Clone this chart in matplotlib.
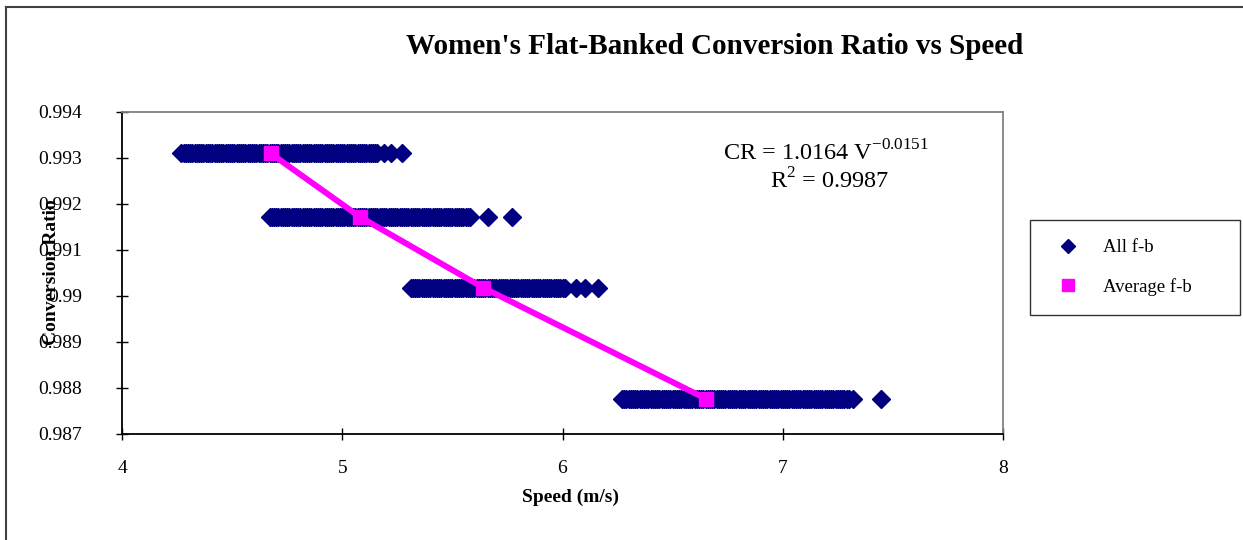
import numpy as np
import matplotlib
matplotlib.use("Agg")
import matplotlib.pyplot as plt
from matplotlib.lines import Line2D

plt.rcParams['font.family'] = ['Liberation Serif', 'DejaVu Serif']
plt.rcParams['mathtext.fontset'] = 'custom'
plt.rcParams['mathtext.rm'] = 'Liberation Serif'

# conversion ratio levels (one row of points per level)
cr_levels = [0.99310, 0.99172, 0.99018, 0.98777]

# speeds of all flat-banked trials, per level
speed_1 = [4.27, 4.28, 4.29, 4.30, 4.31, 4.32, 4.33, 4.34, 4.35, 4.36, 4.37, 4.38,
           4.39, 4.40, 4.41, 4.42, 4.43, 4.44, 4.45, 4.46, 4.47, 4.48, 4.49, 4.50,
           4.51, 4.52, 4.53, 4.54, 4.55, 4.56, 4.57, 4.58, 4.59, 4.60, 4.61, 4.62,
           4.63, 4.64, 4.65, 4.66, 4.67, 4.68, 4.69, 4.70, 4.71, 4.72, 4.73, 4.74,
           4.75, 4.76, 4.77, 4.78, 4.79, 4.80, 4.81, 4.82, 4.83, 4.84, 4.85, 4.86,
           4.87, 4.88, 4.89, 4.90, 4.91, 4.92, 4.93, 4.94, 4.95, 4.96, 4.97, 4.98,
           4.99, 5.00, 5.01, 5.02, 5.03, 5.04, 5.05, 5.06, 5.07, 5.08, 5.09, 5.10,
           5.11, 5.12, 5.13, 5.14, 5.15, 5.16, 5.19, 5.22, 5.27]
speed_2 = [4.67, 4.68, 4.69, 4.70, 4.71, 4.72, 4.73, 4.74, 4.75, 4.76, 4.77, 4.78,
           4.79, 4.80, 4.81, 4.82, 4.83, 4.84, 4.85, 4.86, 4.87, 4.88, 4.89, 4.90,
           4.91, 4.92, 4.93, 4.94, 4.95, 4.96, 4.97, 4.98, 4.99, 5.00, 5.01, 5.02,
           5.03, 5.04, 5.05, 5.06, 5.07, 5.08, 5.09, 5.10, 5.11, 5.12, 5.13, 5.14,
           5.15, 5.16, 5.17, 5.18, 5.19, 5.20, 5.21, 5.22, 5.23, 5.24, 5.25, 5.26,
           5.27, 5.28, 5.29, 5.30, 5.31, 5.32, 5.33, 5.34, 5.35, 5.36, 5.37, 5.38,
           5.39, 5.40, 5.41, 5.42, 5.43, 5.44, 5.45, 5.46, 5.47, 5.48, 5.49, 5.50,
           5.51, 5.52, 5.53, 5.54, 5.55, 5.56, 5.57, 5.58, 5.66, 5.77]
speed_3 = [5.31, 5.32, 5.33, 5.34, 5.35, 5.36, 5.37, 5.38, 5.39, 5.40, 5.41, 5.42,
           5.43, 5.44, 5.45, 5.46, 5.47, 5.48, 5.49, 5.50, 5.51, 5.52, 5.53, 5.54,
           5.55, 5.56, 5.57, 5.58, 5.59, 5.60, 5.61, 5.62, 5.63, 5.64, 5.65, 5.66,
           5.67, 5.68, 5.69, 5.70, 5.71, 5.72, 5.73, 5.74, 5.75, 5.76, 5.77, 5.78,
           5.79, 5.80, 5.81, 5.82, 5.83, 5.84, 5.85, 5.86, 5.87, 5.88, 5.89, 5.90,
           5.91, 5.92, 5.93, 5.94, 5.95, 5.96, 5.97, 5.98, 5.99, 6.00, 6.01,
           6.06, 6.10, 6.16]
speed_4 = [6.27, 6.28, 6.29, 6.30, 6.31, 6.32, 6.33, 6.34, 6.35, 6.36, 6.37, 6.38,
           6.39, 6.40, 6.41, 6.42, 6.43, 6.44, 6.45, 6.46, 6.47, 6.48, 6.49, 6.50,
           6.51, 6.52, 6.53, 6.54, 6.55, 6.56, 6.57, 6.58, 6.59, 6.60, 6.61, 6.62,
           6.63, 6.64, 6.65, 6.66, 6.67, 6.68, 6.69, 6.70, 6.71, 6.72, 6.73, 6.74,
           6.75, 6.76, 6.77, 6.78, 6.79, 6.80, 6.81, 6.82, 6.83, 6.84, 6.85, 6.86,
           6.87, 6.88, 6.89, 6.90, 6.91, 6.92, 6.93, 6.94, 6.95, 6.96, 6.97, 6.98,
           6.99, 7.00, 7.01, 7.02, 7.03, 7.04, 7.05, 7.06, 7.07, 7.08, 7.09, 7.10,
           7.11, 7.12, 7.13, 7.14, 7.15, 7.16, 7.17, 7.18, 7.19, 7.20, 7.21, 7.22,
           7.23, 7.24, 7.25, 7.26, 7.27, 7.28, 7.29, 7.30, 7.32, 7.445]
all_speeds = [speed_1, speed_2, speed_3, speed_4]

# average speed per level
avg_speed = [4.675, 5.08, 5.64, 6.65]
avg_cr = [0.99310, 0.99172, 0.99018, 0.98777]

ytick_vals = [0.987, 0.988, 0.989, 0.99, 0.991, 0.992, 0.993, 0.994]
ytick_labels = ['0.987', '0.988', '0.989', '0.99', '0.991', '0.992', '0.993', '0.994']
xtick_vals = [4, 5, 6, 7, 8]

navy = '#000080'
magenta = '#FF00FF'

fig = plt.figure(figsize=(12.43, 5.40), dpi=100)
ax = fig.add_axes([122/1243, 1 - 434/540, 881/1243, 322/540])

for sp, cr in zip(all_speeds, cr_levels):
    ax.plot(sp, [cr]*len(sp), linestyle='none', marker='D', ms=9,
            color=navy, mec=navy, zorder=2)

ax.plot(avg_speed, avg_cr, color=magenta, lw=4.3, marker='s', ms=10,
        mec=magenta, zorder=3)

ax.set_xlim(4, 8)
ax.set_ylim(0.987, 0.994)
ax.set_xticks(xtick_vals)
ax.set_xticklabels([str(v) for v in xtick_vals])
ax.set_yticks(ytick_vals)
ax.set_yticklabels(ytick_labels)
ax.tick_params(axis='both', direction='inout', length=9, width=1, labelsize=14)
ax.tick_params(axis='y', pad=24)
ax.tick_params(axis='x', pad=14)

for s in ['left', 'bottom']:
    ax.spines[s].set_color('black')
    ax.spines[s].set_linewidth(1.3)
for s in ['top', 'right']:
    ax.spines[s].set_color('#808080')
    ax.spines[s].set_linewidth(1.3)

fig.text(715/1243, 1 - 47/540, "Women's Flat-Banked Conversion Ratio vs Speed",
         ha='center', va='center', fontsize=21, fontweight='bold')
fig.text(570/1243, 1 - 497/540, 'Speed (m/s)', ha='center', va='center',
         fontsize=14, fontweight='bold')
fig.text(52/1243, 1 - 272/540, 'Conversion Ratio', ha='center', va='center',
         rotation=90, fontsize=14, fontweight='bold')

fig.text(826/1243, 1 - 153/540, 'CR = 1.0164 V$^{-0.0151}$', ha='center',
         va='center', fontsize=17.5)
fig.text(830/1243, 1 - 181/540, 'R$^{2}$ = 0.9987', ha='center', va='center',
         fontsize=17.5)

handles = [Line2D([], [], linestyle='none', marker='D', ms=7, color=navy),
           Line2D([], [], linestyle='none', marker='s', ms=9, color=magenta)]
leg = ax.legend(handles, ['All f-b', 'Average f-b'], loc='center left',
                bbox_to_anchor=(1030/1243, 1 - 317/540, 210/1243, 99/540),
                bbox_transform=fig.transFigure, mode='expand',
                fontsize=13.5, frameon=True, fancybox=False, edgecolor='black',
                borderpad=1.0, labelspacing=1.15, handlelength=2.0,
                handletextpad=0.9, borderaxespad=0)
leg.get_frame().set_linewidth(1.0)

# outer chart border (left and top visible)
fig.add_artist(Line2D([6/1243, 6/1243], [0, 1 - 7/540], transform=fig.transFigure,
                      color='#404040', lw=1.5))
fig.add_artist(Line2D([6/1243, 1], [1 - 7/540, 1 - 7/540], transform=fig.transFigure,
                      color='#404040', lw=1.5))

fig.savefig('out.png', dpi=100)
